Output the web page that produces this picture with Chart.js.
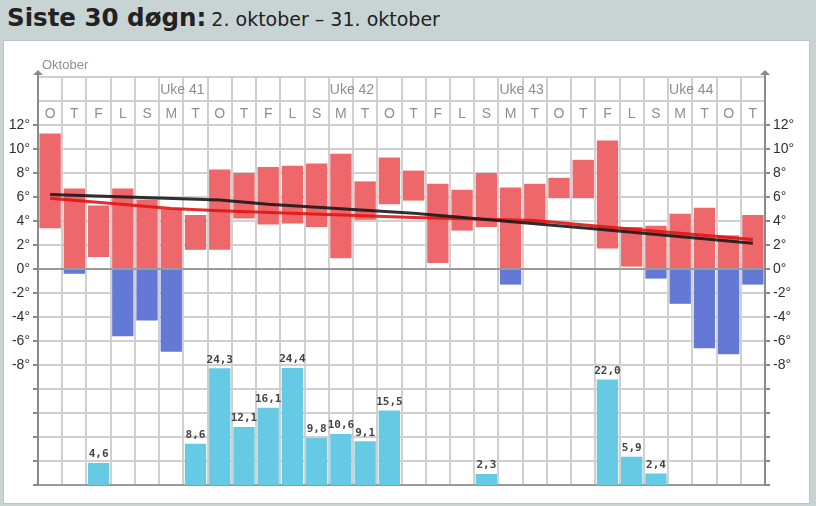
<!DOCTYPE html>
<html>
<head>
<meta charset="utf-8">
<script src="https://cdn.jsdelivr.net/npm/chart.js@4.4.1/dist/chart.umd.min.js"></script>
<style>
  body { margin: 0; background: #c8d4d4; font-family: "Liberation Sans", Arial, sans-serif; }
  #wrap { position: relative; width: 816px; height: 506px; overflow: hidden; }
  #title { position: absolute; left: 7px; top: 3px; color: #222; white-space: nowrap; font-family: "DejaVu Sans", sans-serif; }
  #title b { font-size: 24.5px; }
  #title span { font-size: 19px; }
  #panel { position: absolute; left: 3px; top: 40px; width: 805px; height: 462px; background: #fff; border: 1px solid #b9c6c6; }
  #chart { position: absolute; left: 0; top: 0; }
</style>
</head>
<body>
<div id="wrap">
  <div id="title"><b>Siste 30 døgn:</b> <span>2. oktober – 31. oktober</span></div>
  <div id="panel"></div>
  <canvas id="chart" width="816" height="506"></canvas>
</div>
<script>
// --- Data ---
const days = ['O','T','F','L','S','M','T','O','T','F','L','S','M','T','O','T','F','L','S','M','T','O','T','F','L','S','M','T','O','T'];
const weekLabels = ['Uke 41', 'Uke 42', 'Uke 43', 'Uke 44'];
const weekStart = [5, 12, 19, 26];

const tempMax = [11.3, 6.7, 5.3, 6.7, 5.8, 5.0, 4.5, 8.3, 8.0, 8.5, 8.6, 8.8, 9.6, 7.3, 9.3, 8.2, 7.1, 6.6, 8.0, 6.8, 7.1, 7.6, 9.1, 10.7, 3.5, 3.6, 4.6, 5.1, 2.8, 4.5];
const tempMin = [3.4, -0.4, 1.0, -5.6, -4.3, -6.9, 1.6, 1.6, 4.2, 3.7, 3.8, 3.5, 0.9, 4.1, 5.4, 5.7, 0.5, 3.2, 3.5, -1.3, 3.8, 5.9, 5.9, 1.7, 0.2, -0.8, -2.9, -6.6, -7.1, -1.3];
const precip = [null, null, 4.6, null, null, null, 8.6, 24.3, 12.1, 16.1, 24.4, 9.8, 10.6, 9.1, 15.5, null, null, null, 2.3, null, null, null, null, 22.0, 5.9, 2.4, null, null, null, null];

// trendlinjer, punkter lest av bildet
const blackTrend = [6.2, null, null, null, null, null, null, 5.75, null, 5.4, null, null, null, null, null, 4.65, null, null, null, null, null, null, null, 3.25, null, null, null, null, null, 2.15];
const redTrend = [5.9, null, null, null, null, 5.05, null, 4.85, null, null, null, null, null, null, null, 4.3, null, null, null, null, 4.05, null, null, 3.5, null, null, null, null, null, 2.45];

const tempTicks = [-8, -6, -4, -2, 0, 2, 4, 6, 8, 10, 12];

// --- Avledede serier ---
const warmBars = tempMax.map((mx, i) => mx > 0 ? [Math.max(tempMin[i], 0), mx] : null);
const coldBars = tempMin.map((mn, i) => mn < 0 ? [mn, Math.min(tempMax[i], 0)] : null);

function tempLabel(v) {
  return tempTicks.includes(v) ? v + '°' : '';
}

const headerPlugin = {
  id: 'header',
  afterDraw(chart) {
    const { ctx, chartArea } = chart;
    const x = chart.scales.x;
    const y = chart.scales.y;
    const colW = x.getPixelForValue(1) - x.getPixelForValue(0);

    ctx.save();
    ctx.fillStyle = '#8f8f8f';
    ctx.font = '14px "Liberation Sans", Arial, sans-serif';
    ctx.textBaseline = 'middle';

    // dagbokstaver
    ctx.textAlign = 'center';
    const dayY = (y.getPixelForValue(12) + y.getPixelForValue(14)) / 2 + 1;
    days.forEach((d, i) => ctx.fillText(d, x.getPixelForValue(i), dayY));

    // ukenummer
    ctx.textAlign = 'left';
    const weekY = (y.getPixelForValue(14) + y.getPixelForValue(16)) / 2 + 1;
    weekLabels.forEach((w, i) => ctx.fillText(w, x.getPixelForValue(weekStart[i]) - colW / 2 + 1, weekY));

    // måned
    ctx.font = '13px "Liberation Sans", Arial, sans-serif';
    ctx.fillText('Oktober', chartArea.left + 4, chartArea.top - 12);

    // piler på aksene
    ctx.strokeStyle = '#8a8a8a';
    ctx.fillStyle = '#8a8a8a';
    ctx.lineWidth = 2;
    [chartArea.left, chartArea.right].forEach(ax => {
      ctx.beginPath();
      ctx.moveTo(ax, chartArea.top);
      ctx.lineTo(ax, chartArea.top - 5);
      ctx.stroke();
      ctx.beginPath();
      ctx.moveTo(ax, chartArea.top - 7);
      ctx.lineTo(ax - 5, chartArea.top - 2);
      ctx.lineTo(ax + 5, chartArea.top - 2);
      ctx.closePath();
      ctx.fill();
    });

    // nedbørsverdier
    const meta = chart.getDatasetMeta(2);
    ctx.fillStyle = '#444';
    ctx.font = 'bold 11px "DejaVu Sans Mono", monospace';
    ctx.textAlign = 'center';
    ctx.textBaseline = 'bottom';
    meta.data.forEach((bar, i) => {
      if (precip[i] == null) return;
      ctx.fillText(precip[i].toFixed(1).replace('.', ','), bar.x, bar.y - 3);
    });
    ctx.restore();
  }
};

new Chart(document.getElementById('chart'), {
  type: 'bar',
  data: {
    labels: days,
    datasets: [
      {
        label: 'Temp over 0',
        data: warmBars,
        backgroundColor: '#ed676b',
        yAxisID: 'y',
        grouped: false,
        order: 5
      },
      {
        label: 'Temp under 0',
        data: coldBars,
        backgroundColor: '#6479d5',
        yAxisID: 'y',
        grouped: false,
        order: 5
      },
      {
        label: 'Nedbør',
        data: precip,
        backgroundColor: '#66cae4',
        yAxisID: 'yP',
        grouped: false,
        order: 6
      },
      {
        type: 'line',
        label: 'Normal',
        data: redTrend,
        borderColor: 'rgba(228, 20, 20, 0.9)',
        borderWidth: 3,
        pointRadius: 0,
        spanGaps: true,
        yAxisID: 'y',
        order: 2
      },
      {
        type: 'line',
        label: 'Trend',
        data: blackTrend,
        borderColor: 'rgba(25, 25, 25, 0.9)',
        borderWidth: 3,
        pointRadius: 0,
        spanGaps: true,
        yAxisID: 'y',
        order: 1
      }
    ]
  },
  options: {
    responsive: false,
    animation: false,
    devicePixelRatio: 1,
    layout: { padding: { left: 0, right: 0, top: 77, bottom: 21 } },
    datasets: {
      bar: { barPercentage: 0.88, categoryPercentage: 1, borderWidth: 0 }
    },
    scales: {
      x: {
        ticks: { display: false },
        grid: { color: '#d0d0d0', lineWidth: 2, drawTicks: false },
        border: { display: true, color: '#9a9a9a', width: 2 },
        afterFit: s => { s.height = 0; }
      },
      y: {
        position: 'left',
        min: -18,
        max: 16,
        ticks: {
          stepSize: 2,
          autoSkip: false,
          padding: 3,
          color: '#2b2f3a',
          font: { size: 14, family: '"Liberation Sans", Arial, sans-serif' },
          callback: tempLabel
        },
        grid: {
          color: c => c.tick.value === 0 ? '#9a9a9a' : '#d0d0d0',
          lineWidth: 2,
          tickLength: 5,
          tickColor: c => c.tick.value > 12 ? 'rgba(0,0,0,0)' : '#8a8a8a'
        },
        border: { display: true, color: '#8a8a8a', width: 2 },
        afterFit: s => { s.width = 38; }
      },
      yR: {
        position: 'right',
        min: -18,
        max: 16,
        ticks: {
          stepSize: 2,
          autoSkip: false,
          padding: 3,
          color: '#2b2f3a',
          font: { size: 14, family: '"Liberation Sans", Arial, sans-serif' },
          callback: tempLabel
        },
        grid: {
          drawOnChartArea: false,
          tickLength: 5,
          lineWidth: 2,
          tickColor: c => c.tick.value > 12 ? 'rgba(0,0,0,0)' : '#8a8a8a'
        },
        border: { display: true, color: '#8a8a8a', width: 2 },
        afterFit: s => { s.width = 51; }
      },
      yP: {
        display: false,
        min: 0,
        max: 85
      }
    },
    plugins: {
      legend: { display: false },
      tooltip: { enabled: false }
    }
  },
  plugins: [headerPlugin]
});
</script>
</body>
</html>
